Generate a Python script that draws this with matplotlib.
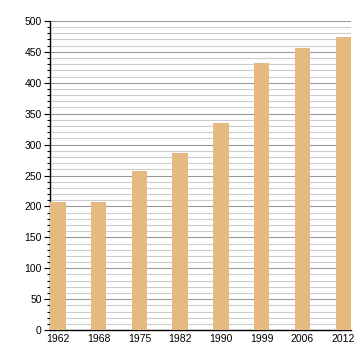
import matplotlib
matplotlib.use("Agg")
import matplotlib.pyplot as plt
from matplotlib.ticker import MultipleLocator

# Population by census year
years = ["1962", "1968", "1975", "1982", "1990", "1999", "2006", "2012"]
population = [207, 207, 258, 287, 335, 432, 456, 474]

BAR_COL = "#e6b980"

plt.rcParams["font.family"] = ["Liberation Sans", "DejaVu Sans"]

fig = plt.figure(figsize=(3.6, 3.6), dpi=100)
ax = fig.add_axes([0.139, 0.083, 0.836, 0.859])

x = list(range(len(years)))
ax.bar(x, population, width=0.38, color=BAR_COL, zorder=3)

ax.set_xlim(-0.19, len(years) - 1 + 0.19)
ax.set_ylim(0, 500)
ax.set_xticks(x)
ax.set_xticklabels(years, fontsize=7.5)
ax.tick_params(axis="x", length=0, pad=3)

ax.yaxis.set_major_locator(MultipleLocator(50))
ax.yaxis.set_minor_locator(MultipleLocator(10))
ax.tick_params(axis="y", which="major", length=4, width=0.8, labelsize=7.5, pad=2)
ax.tick_params(axis="y", which="minor", length=2, width=0.8)

ax.grid(axis="y", which="major", color="#999999", linewidth=0.8, zorder=1)
ax.grid(axis="y", which="minor", color="#cccccc", linewidth=0.8, zorder=1)

for side in ("top", "right"):
    ax.spines[side].set_visible(False)
for side in ("left", "bottom"):
    ax.spines[side].set_color("black")
    ax.spines[side].set_linewidth(1.0)

fig.savefig("out.png", dpi=100)
